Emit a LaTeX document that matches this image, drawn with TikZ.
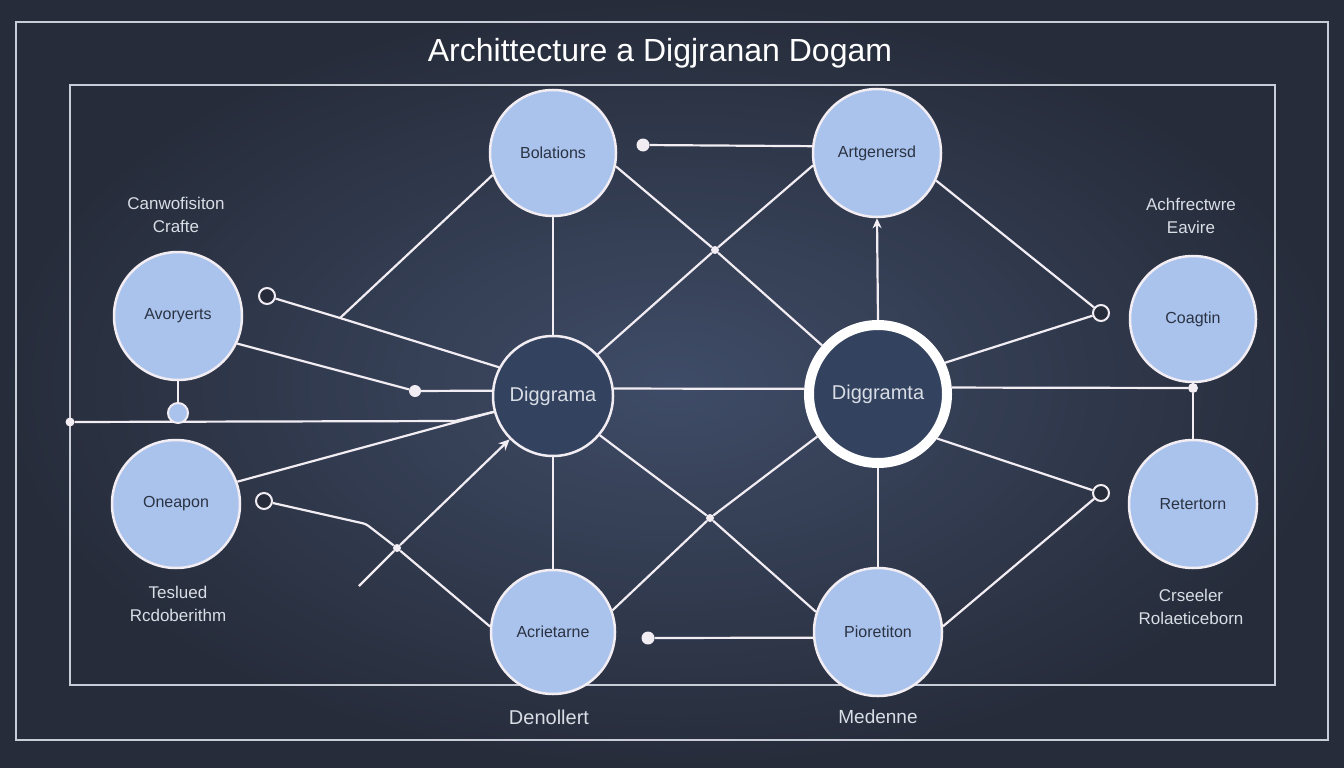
\documentclass[tikz,border=0pt]{standalone}
\usepackage{fontspec}
\setmainfont{Liberation Sans}
\usetikzlibrary{arrows.meta}
\definecolor{bgout}{HTML}{262C3A}
\definecolor{bgin}{HTML}{3F4C67}
\definecolor{wline}{HTML}{F2ECF3}
\definecolor{lblue}{HTML}{A9C3EC}
\definecolor{dnode}{HTML}{33425F}
\definecolor{ntext}{HTML}{2B3243}
\definecolor{ltext}{HTML}{D9DDE5}
\definecolor{frame}{HTML}{C9CDD7}
\tikzset{
  lb/.style={circle, draw=wline, line width=2.5, fill=lblue, inner sep=0pt, text=ntext, font=\fontsize{16}{18}\selectfont},
  dk/.style={circle, draw=wline, line width=2.5, fill=dnode, inner sep=0pt, text=ltext, font=\fontsize{20}{22}\selectfont},
  conn/.style={draw=wline, line width=2.2},
  fdot/.style={circle, fill=wline, inner sep=0pt, minimum size=12},
  odot/.style={circle, draw=wline, line width=2, fill=bgout, inner sep=0pt, minimum size=16},
  jdot/.style={circle, fill=wline, inner sep=0pt, minimum size=8},
  lab/.style={text=ltext, align=center, font=\fontsize{17}{23}\selectfont},
}
\begin{document}
\begin{tikzpicture}[x=1pt,y=-1pt]
\useasboundingbox (0,0) rectangle (1344,768);
\shade[inner color=bgin, outer color=bgout] (0,0) rectangle (1344,768);
\draw[frame, line width=1.5] (16,22) rectangle (1328,740);
\draw[frame, line width=2] (70,85) rectangle (1275,685);
\node[text=white, font=\fontsize{32}{36}\selectfont] (title) at (660,53) {Archittecture a Digjranan Dogam};

% nodes
\node[lb, minimum size=126] (bol) at (553,153) {Bolations};
\node[lb, minimum size=128] (art) at (877,153) {Artgenersd};
\node[lb, minimum size=128] (avo) at (178,316) {Avoryerts};
\node[lb, minimum size=128] (one) at (176,504) {Oneapon};
\node[lb, minimum size=126] (coa) at (1193,319) {Coagtin};
\node[lb, minimum size=128] (ret) at (1193,504) {Retertorn};
\node[lb, minimum size=124] (acr) at (553,632) {Acrietarne};
\node[lb, minimum size=128] (pio) at (878,632) {Pioretiton};
\node[dk, minimum size=120] (dl) at (553,396) {Diggrama};
\node[dk, minimum size=138, line width=10, draw=white] (dr) at (878,394) {Diggramta};

% labels
\node[lab] (l1) at (176,215) {Canwofisiton\\Crafte};
\node[lab] (l2) at (1191,216) {Achfrectwre\\Eavire};
\node[lab] (l3) at (178,604) {Teslued\\Rcdoberithm};
\node[lab] (l4) at (1191,607) {Crseeler\\Rolaeticeborn};
\node[lab, font=\fontsize{20}{22}\selectfont] (l5) at (549,717) {Denollert};
\node[lab, font=\fontsize{19}{22}\selectfont] (l6) at (878,717) {Medenne};

% helper points
\node[odot] (oc1) at (267,296) {};
\coordinate (j1) at (340,318);
\node[fdot] (d1) at (415,391) {};
\node[fdot, minimum size=9] (d2) at (70,422) {};
\coordinate (k2) at (455,421);
\node[odot] (oc2) at (264,501) {};
\coordinate (k1) at (366,524);
\node[jdot] (j2) at (397,548) {};
\coordinate (e1) at (359,586);
\node[jdot] (jt) at (715,250) {};
\node[jdot] (jb) at (710,518) {};
\node[fdot, minimum size=13] (d3) at (643,145) {};
\node[fdot, minimum size=13] (d4) at (648,638) {};
\node[odot, fill=bgout] (oc3) at (1101,313) {};
\node[odot, fill=bgout] (oc4) at (1101,493) {};
\node[fdot, minimum size=10] (d5) at (1193,388) {};

% connectors (left)
\draw[conn, rounded corners=4] (oc1) -- (j1) -- (dl.152);
\draw[conn] (j1) -- (bol.200);
\draw[conn] (avo.-25) -- (d1) -- (dl.175);
\draw[conn] (d2) -- (k2) -- (dl.195);
\draw[conn] (one.20) -- (dl.195);
\draw[conn] (avo.south) -- (178,403);
\node[circle, draw=wline, line width=2, fill=lblue, inner sep=0pt, minimum size=20] (sc) at (178,413) {};
\draw[conn, rounded corners=3] (oc2) -- (k1) -- (j2);
\draw[conn, -{Stealth[length=11,width=10]}] (e1) -- (j2) -- (dl.225);
\draw[conn] (j2) -- (acr.175);
\draw[conn] (bol.south) -- (dl.north);
\draw[conn] (dl.south) -- (acr.north);

% middle crosses
\draw[conn] (bol.-12) -- (jt) -- (dr.139);
\draw[conn] (dl.43) -- (jt) -- (art.191);
\draw[conn] (dl.-40) -- (jb) -- (pio.162);
\draw[conn] (acr.20) -- (jb) -- (dr.215);
\draw[conn] (dl.7) -- (dr.176);
\draw[conn] (d3) -- (art.174);
\draw[conn] (d4) -- (pio.185);
\draw[conn, -{Stealth[length=10,width=9]}] (dr.north) -- (art.south);
\draw[conn] (dr.south) -- (pio.north);

% right
\draw[conn] (art.-25) -- (oc3);
\draw[conn] (dr.25) -- (oc3);
\draw[conn] (dr.5) -- (d5);
\draw[conn] (coa.south) -- (d5) -- (ret.north);
\draw[conn] (dr.-37) -- (oc4);
\draw[conn] (pio.5) -- (oc4);
\end{tikzpicture}
\end{document}
